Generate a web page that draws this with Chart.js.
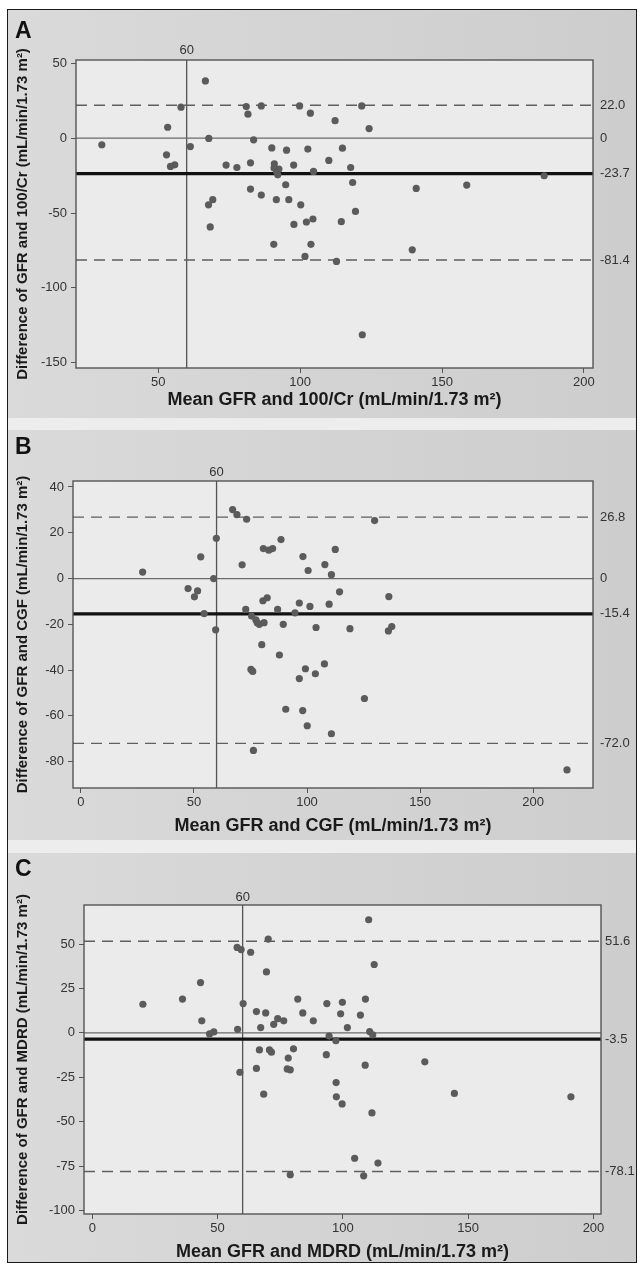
<!DOCTYPE html>
<html>
<head>
<meta charset="utf-8">
<script src="https://cdn.jsdelivr.net/npm/chart.js@4.4.0/dist/chart.umd.min.js"></script>
<style>
  body { margin: 0; width: 640px; height: 1264px; position: relative; overflow: hidden; background: #fff; }
  .panel { position: absolute; left: 8px; width: 628px; background: linear-gradient(to right, #dadada, #cdcdcd); }
  .band { position: absolute; left: 8px; width: 628px; background: #ededed; }
  .frame { position: absolute; left: 7px; top: 9px; width: 630px; height: 1254px; border: 1.5px solid #1a1a1a; box-sizing: border-box; }
  canvas { position: absolute; left: 0; }
  .letter { position: absolute; left: 15px; font: bold 23px "Liberation Sans", Arial, sans-serif; line-height: 23px; color: #111; }
</style>
</head>
<body>
<div class="panel" style="top:10px;height:408px"></div>
<div class="band" style="top:418px;height:12px"></div>
<div class="panel" style="top:430px;height:410px"></div>
<div class="band" style="top:840px;height:13px"></div>
<div class="panel" style="top:853px;height:410px"></div>

<canvas id="chartA" width="640" height="408" style="top:10px"></canvas>
<canvas id="chartB" width="640" height="410" style="top:430px"></canvas>
<canvas id="chartC" width="640" height="410" style="top:853px"></canvas>

<div class="letter" style="top:19px">A</div>
<div class="letter" style="top:435px">B</div>
<div class="letter" style="top:857px">C</div>
<div class="frame"></div>

<script>
// Panel A: GFR vs 100/Cr
const aMean = [30.1, 53.3, 52.9, 54.3, 55.8, 58.0, 61.3, 66.6, 67.8, 67.7, 69.2, 68.3, 73.9, 77.7, 81.0, 81.6, 83.6, 82.5, 82.5, 86.3,
  86.3, 90.0, 90.9, 90.8, 92.5, 91.7, 92.1, 90.7, 91.6, 95.2, 94.9, 96.0, 97.7, 97.8, 99.8, 100.2, 101.7, 102.2, 102.7, 103.6,
  103.8, 104.5, 104.7, 110.1, 112.3, 112.8, 114.5, 114.9, 117.8, 118.5, 119.5, 121.7, 121.9, 124.3, 139.5, 140.9, 158.7, 186.0];
const aDiff = [-4.4, 7.3, -11.1, -18.9, -17.8, 20.7, -5.6, 38.2, -0.2, -44.5, -41.1, -59.3, -18.0, -19.6, 21.1, 16.0, -1.1, -16.5, -34.0, 21.5,
  -38.0, -6.5, -17.1, -19.9, -20.6, -22.5, -24.5, -70.9, -41.1, -8.0, -31.1, -41.1, -18.0, -57.6, 21.5, -44.5, -79.0, -56.0, -7.3, 16.7,
  -70.9, -54.0, -22.2, -14.9, 11.7, -82.3, -55.8, -6.7, -19.6, -29.6, -48.9, 21.5, -131.3, 6.4, -74.6, -33.6, -31.3, -25.1];
const aLimits = [22.0, -23.7, -81.4];          // upper, mean, lower
const aRightTicks = [22.0, 0, -23.7, -81.4];

// Panel B: GFR vs CGF
const bMean = [27.3, 47.4, 50.2, 51.6, 53.0, 54.5, 58.7, 59.9, 59.6, 67.1, 69.0, 73.3, 71.3, 72.9, 75.5, 77.4, 78.0, 78.9, 81.0, 80.7,
  83.1, 84.8, 88.5, 80.5, 82.4, 87.0, 89.5, 80.0, 87.8, 75.2, 76.0, 76.3, 90.6, 94.7, 98.2, 100.5, 96.6, 101.3, 104.0, 99.3,
  103.7, 96.6, 98.1, 100.1, 107.9, 110.8, 112.5, 114.4, 109.8, 107.7, 110.8, 119.0, 125.4, 129.9, 136.2, 136.0, 137.5, 215.0];
const bDiff = [2.8, -4.4, -8.0, -5.4, 9.5, -15.3, 0.0, 17.6, -22.4, 30.1, 27.9, 25.9, 6.0, -13.5, -16.4, -18.1, -19.3, -20.0, -19.3, 13.1,
  12.4, 13.1, 17.0, -9.7, -8.4, -13.5, -20.0, -28.9, -33.4, -39.7, -40.6, -75.1, -57.1, -15.0, 9.6, 3.5, -10.7, -12.2, -21.4, -39.4,
  -41.6, -43.7, -57.7, -64.3, 6.1, 1.7, 12.7, -5.8, -11.2, -37.3, -67.8, -21.9, -52.4, 25.3, -7.9, -22.9, -21.0, -83.6];
const bLimits = [26.8, -15.4, -72.0];
const bRightTicks = [26.8, 0, -15.4, -72.0];

// Panel C: GFR vs MDRD
const cMean = [20.2, 36.0, 43.2, 43.7, 46.8, 48.5, 57.8, 59.4, 63.2, 60.2, 58.0, 58.9, 70.2, 69.5, 65.5, 69.2, 67.2, 72.4, 74.0, 76.4,
  66.7, 70.7, 71.5, 65.5, 68.4, 80.3, 78.2, 77.8, 79.0, 79.0, 82.0, 84.0, 88.2, 93.6, 93.4, 94.5, 97.2, 97.3, 97.4, 99.7,
  99.8, 99.1, 101.8, 107.0, 104.7, 108.9, 108.3, 109.0, 110.3, 112.5, 110.7, 111.9, 111.6, 114.0, 132.7, 144.5, 191.0];
const cDiff = [16.1, 19.0, 28.3, 6.8, -0.6, 0.5, 48.1, 46.9, 45.4, 16.5, 2.0, -22.2, 52.8, 34.3, 12.0, 11.2, 3.0, 4.8, 8.0, 6.8,
  -9.6, -9.6, -10.9, -20.0, -34.5, -9.0, -14.2, -20.3, -20.8, -79.9, 19.0, 11.2, 6.8, 16.5, -12.3, -1.8, -4.4, -28.0, -36.0, -40.0,
  17.2, 10.7, 3.0, 10.0, -70.6, -18.2, -80.5, 19.0, 63.7, 38.5, 0.7, -1.1, -45.1, -73.3, -16.3, -34.1, -36.0];
const cLimits = [51.6, -3.5, -78.1];
const cRightTicks = [51.6, -3.5, -78.1];

const cutoff = 60;
const unit = " (mL/min/1.73 m\u00b2)";
const tickFont = { family: "'Liberation Sans', Arial, sans-serif", size: 13 };
const titleFamily = "'Liberation Sans', Arial, sans-serif";

// grey plot area and its dark frame
const plotFrame = {
  id: "plotFrame",
  beforeDraw(chart) {
    const { ctx, chartArea: a } = chart;
    ctx.save();
    ctx.fillStyle = "#ebebeb";
    ctx.fillRect(a.left, a.top, a.width, a.height);
    ctx.restore();
  },
  afterDraw(chart) {
    const { ctx, chartArea: a } = chart;
    ctx.save();
    ctx.strokeStyle = "#555";
    ctx.lineWidth = 1.4;
    ctx.strokeRect(a.left, a.top, a.width, a.height);
    ctx.restore();
  }
};

function hLine(y, xMin, xMax, color, width, dash) {
  return {
    type: "line",
    data: [{ x: xMin, y: y }, { x: xMax, y: y }],
    borderColor: color, borderWidth: width, borderDash: dash || [],
    pointRadius: 0, fill: false, order: 2
  };
}

function makePanel(p) {
  const points = p.mean.map((m, i) => ({ x: m, y: p.diff[i] }));
  const datasets = [
    { type: "scatter", data: points, backgroundColor: "#5b5b5b", borderWidth: 0, pointRadius: 3.6, order: 0 },
    hLine(p.limits[0], p.xMin, p.xMax, "#5f5f5f", 1.4, [11, 7]),
    hLine(p.limits[2], p.xMin, p.xMax, "#5f5f5f", 1.4, [11, 7]),
    hLine(0, p.xMin, p.xMax, "#6a6a6a", 1.2),
    hLine(p.limits[1], p.xMin, p.xMax, "#111", 3.2),
    {
      type: "line", data: [{ x: cutoff, y: p.yMin }, { x: cutoff, y: p.yMax }],
      borderColor: "#555", borderWidth: 1.3, pointRadius: 0, fill: false, order: 2
    }
  ];

  new Chart(document.getElementById(p.id), {
    type: "scatter",
    data: { datasets: datasets },
    plugins: [plotFrame],
    options: {
      responsive: false,
      animation: false,
      layout: { padding: 0 },
      plugins: { legend: { display: false }, tooltip: { enabled: false } },
      scales: {
        x: {
          type: "linear", position: "bottom", min: p.xMin, max: p.xMax,
          ticks: { stepSize: 50, includeBounds: false, color: "#333", font: tickFont, padding: 2, maxRotation: 0 },
          grid: { drawOnChartArea: false, tickLength: 5, tickColor: "#555" },
          border: { display: false },
          title: { display: true, text: p.xTitle, color: "#1a1a1a",
            font: { family: titleFamily, size: 18, weight: "bold" }, padding: { top: 0, bottom: p.box.xTitlePad } },
          afterFit(s) { s.height = p.box.bottom; }
        },
        xTop: {
          type: "linear", position: "top", min: p.xMin, max: p.xMax,
          afterBuildTicks(s) { s.ticks = [{ value: cutoff }]; },
          ticks: { color: "#333", font: tickFont, padding: p.box.topPad, maxRotation: 0 },
          grid: { display: false, drawTicks: false },
          border: { display: false },
          afterFit(s) { s.height = p.box.top; }
        },
        y: {
          type: "linear", position: "left", min: p.yMin, max: p.yMax,
          ticks: { stepSize: p.yStep, includeBounds: false, color: "#333", font: tickFont, padding: 4 },
          grid: { drawOnChartArea: false, tickLength: 5, tickColor: "#555" },
          border: { display: false },
          title: { display: true, text: p.yTitle, color: "#1a1a1a",
            font: { family: titleFamily, size: 15, weight: "bold" }, padding: { top: 14, bottom: 0 } },
          afterFit(s) { s.width = p.box.left; }
        },
        yRight: {
          type: "linear", position: "right", min: p.yMin, max: p.yMax,
          afterBuildTicks(s) { s.ticks = p.rightTicks.map(v => ({ value: v })); },
          ticks: { color: "#333", font: tickFont, padding: p.box.rightPad, autoSkip: false,
            callback: v => (v === 0 ? "0" : v.toFixed(1)) },
          grid: { display: false, drawTicks: false },
          border: { display: false },
          afterFit(s) { s.width = p.box.right; }
        }
      }
    }
  });
}

makePanel({
  id: "chartA", mean: aMean, diff: aDiff, limits: aLimits, rightTicks: aRightTicks,
  xTitle: "Mean GFR and 100/Cr" + unit, yTitle: "Difference of GFR and 100/Cr" + unit,
  xMin: 21, xMax: 203.2, yMin: -153.5, yMax: 52.2, yStep: 50,
  box: { left: 76, right: 47, top: 50, bottom: 50, xTitlePad: 7, topPad: 2, rightPad: 7 }
});

makePanel({
  id: "chartB", mean: bMean, diff: bDiff, limits: bLimits, rightTicks: bRightTicks,
  xTitle: "Mean GFR and CGF" + unit, yTitle: "Difference of GFR and CGF" + unit,
  xMin: -3.5, xMax: 226.5, yMin: -91.5, yMax: 42.6, yStep: 20,
  box: { left: 73, right: 47, top: 51, bottom: 52, xTitlePad: 3.5, topPad: 1, rightPad: 7 }
});

makePanel({
  id: "chartC", mean: cMean, diff: cDiff, limits: cLimits, rightTicks: cRightTicks,
  xTitle: "Mean GFR and MDRD" + unit, yTitle: "Difference of GFR and MDRD" + unit,
  xMin: -3.3, xMax: 203, yMin: -102, yMax: 72, yStep: 25,
  box: { left: 84, right: 39, top: 52, bottom: 49, xTitlePad: 0.5, topPad: 0, rightPad: 4 }
});
</script>
</body>
</html>
